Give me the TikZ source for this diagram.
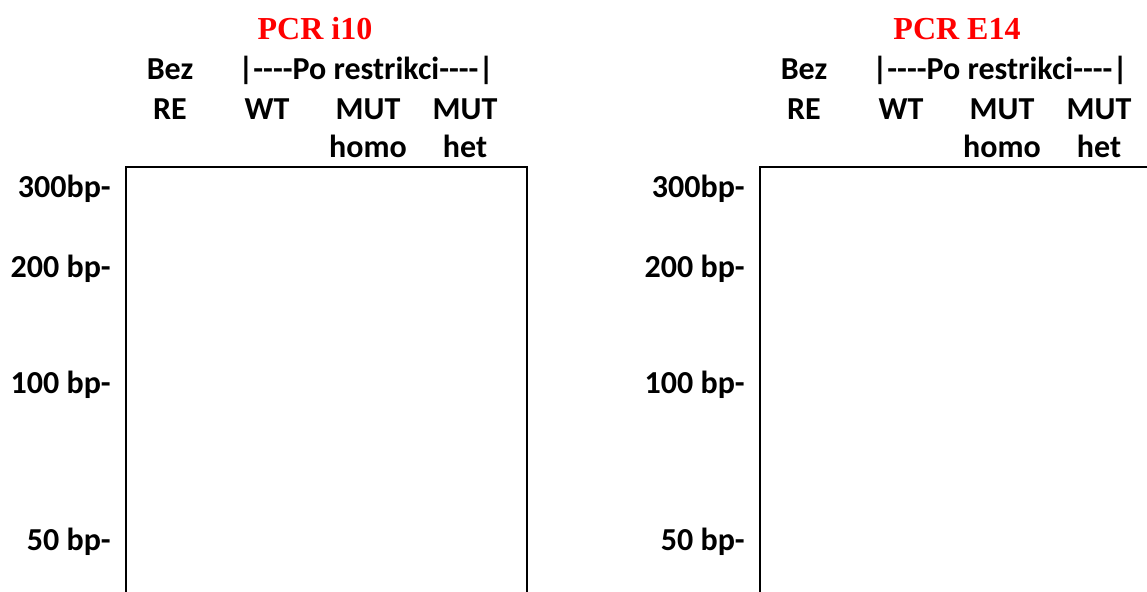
\documentclass[tikz,border=0pt]{standalone}
\usepackage{fontspec}
\setmainfont{Carlito}
\newfontfamily\titlefont{Liberation Serif}
\usepackage{tikz}
\usetikzlibrary{positioning}
\definecolor{titlered}{RGB}{255,0,0}
\tikzset{
  lbl/.style={anchor=base,inner sep=0pt,font=\bfseries\fontsize{24}{28}\selectfont},
  ttl/.style={anchor=base,inner sep=0pt,text=titlered,font=\titlefont\bfseries\fontsize{24}{28}\selectfont},
  marker/.style={anchor=base east,inner sep=0pt,font=\bfseries\fontsize{24}{28}\selectfont},
  gel/.style={draw=black,line width=1.5pt}
}
\begin{document}
\begin{tikzpicture}[x=0.75pt,y=-0.75pt]
\useasboundingbox (0,0) rectangle (1147,592);
\foreach \p/\dx/\tx/\name in {a/0/315/PCR i10,b/634/323/PCR E14} {
\begin{scope}[shift={(\dx,0)}]
\node[ttl] (title\p) at (\tx,40) {\name};
\node[lbl] (bez\p) at (170,80) {Bez};
\node[lbl] (po\p) at (366,80) {|-{}-{}-{}-Po restrikci-{}-{}-{}-|};
\node[lbl] (re\p) at (170,119) {RE};
\node[lbl] (wt\p) at (267,119) {WT};
\node[lbl] (muthomo\p) at (368,119) {MUT};
\node[lbl] (muthet\p) at (465,119) {MUT};
\node[lbl] (homo\p) at (368,157) {homo};
\node[lbl] (het\p) at (465,157) {het};
\node[marker] (m300\p) at (111,197) {300bp-};
\node[marker] (m200\p) at (111,277) {200 bp-};
\node[marker] (m100\p) at (111,393) {100 bp-};
\node[marker] (m50\p) at (111,550) {50 bp-};
\draw[gel] (126,600) |- (527,167) -- (527,600);
\end{scope}
}
\end{tikzpicture}
\end{document}
